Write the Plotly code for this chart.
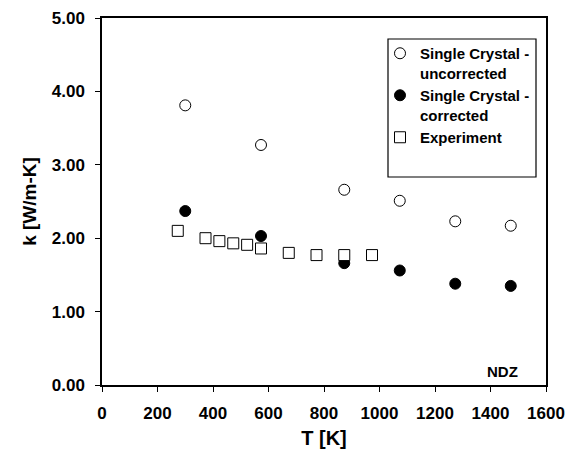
import plotly.graph_objects as go

T_sc = [300, 573, 873, 1073, 1273, 1473]
k_uncorr = [3.81, 3.27, 2.66, 2.51, 2.23, 2.17]
k_corr = [2.37, 2.03, 1.66, 1.56, 1.38, 1.35]
T_exp = [273, 373, 423, 473, 523, 573, 673, 773, 873, 973]
k_exp = [2.10, 2.00, 1.96, 1.93, 1.91, 1.86, 1.80, 1.77, 1.77, 1.77]

FONT = "Liberation Sans, Arial, Helvetica, sans-serif"

L, R, T, B = 102, 26, 18, 64
W, H = 572, 449
PW, PH = W - L - R, H - T - B

def px(xp):
    return (xp - L) / PW

def py(yp):
    return (H - B - yp) / PH

fig = go.Figure()
fig.add_trace(go.Scatter(
    x=T_sc, y=k_uncorr, mode="markers", name="Single Crystal -<br>uncorrected",
    marker=dict(symbol="circle", size=11, color="white", line=dict(color="black", width=1))))
fig.add_trace(go.Scatter(
    x=T_sc, y=k_corr, mode="markers", name="Single Crystal -<br>corrected",
    marker=dict(symbol="circle", size=11, color="black", line=dict(color="black", width=1))))
fig.add_trace(go.Scatter(
    x=T_exp, y=k_exp, mode="markers", name="Experiment",
    marker=dict(symbol="square", size=11, color="white", line=dict(color="black", width=1))))

fig.update_layout(
    width=W, height=H,
    margin=dict(l=L, r=R, t=T, b=B, autoexpand=False),
    paper_bgcolor="white", plot_bgcolor="white",
    font=dict(family=FONT, color="black"),
    showlegend=True,
    legend=dict(
        x=px(380), y=py(37), xanchor="left", yanchor="top",
        bgcolor="rgba(0,0,0,0)", borderwidth=0, valign="top",
        font=dict(family=FONT, size=15, color="black", weight="bold"),
        itemwidth=30, tracegroupgap=4,
    ),
    shapes=[dict(type="rect", xref="paper", yref="paper",
                 x0=px(388), x1=px(536), y0=py(177), y1=py(39),
                 line=dict(color="black", width=1.2), fillcolor="rgba(0,0,0,0)", layer="above")],
    xaxis=dict(
        range=[0, 1600], tickvals=[0, 200, 400, 600, 800, 1000, 1200, 1400, 1600],
        showgrid=False, zeroline=False, showline=True, linecolor="black", linewidth=1.5,
        mirror=True, ticks="outside", ticklen=5, tickcolor="black", tickwidth=1.2,
        ticklabelstandoff=7, automargin=False,
        tickfont=dict(family=FONT, size=17, color="black", weight="bold"),
        title=dict(text="T [K]", font=dict(family=FONT, size=20, color="black", weight="bold"), standoff=9),
    ),
    yaxis=dict(
        range=[0, 5], tickvals=[0, 1, 2, 3, 4, 5], tickformat=".2f",
        showgrid=False, zeroline=False, showline=True, linecolor="black", linewidth=1.5,
        mirror=True, ticks="outside", ticklen=5, tickcolor="black", tickwidth=1.2,
        ticklabelstandoff=7, automargin=False,
        tickfont=dict(family=FONT, size=17, color="black", weight="bold"),
        title=dict(text="k [W/m-K]", font=dict(family=FONT, size=19, color="black", weight="bold"), standoff=10),
    ),
    annotations=[dict(
        text="NDZ", x=1445, y=0.18, xref="x", yref="y", showarrow=False,
        font=dict(family=FONT, size=15, color="black", weight="bold"))],
)

fig.write_html("out.html")
